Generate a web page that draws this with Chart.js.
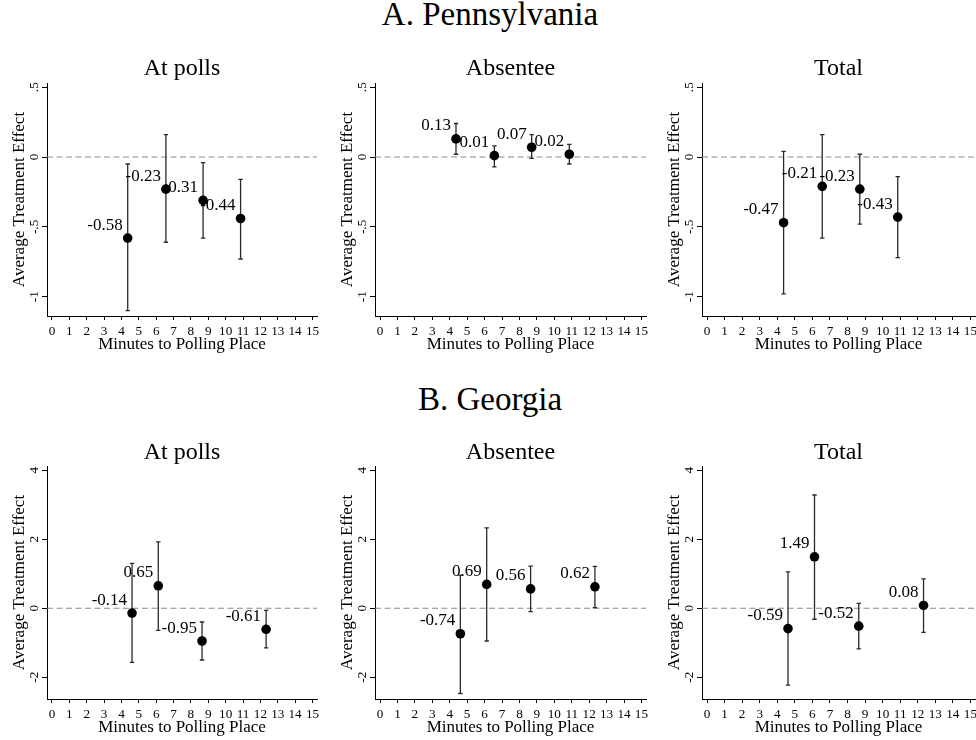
<!DOCTYPE html>
<html><head><meta charset="utf-8">
<script src="https://cdn.jsdelivr.net/npm/chart.js@4/dist/chart.umd.min.js"></script>
<style>
html,body{margin:0;padding:0;background:#fff;width:976px;height:740px;overflow:hidden;}
body{position:relative;font-family:"Liberation Serif","Times New Roman",serif;color:#000;}
.sec{position:absolute;left:290px;width:400px;text-align:center;font-size:33px;line-height:1;white-space:nowrap;}
.ptitle{position:absolute;width:200px;text-align:center;font-size:24px;line-height:1;white-space:nowrap;}
canvas{position:absolute;}
</style></head><body>
<div class="sec" style="top:-1.6px">A. Pennsylvania</div>
<div class="sec" style="top:383.4px">B. Georgia</div>
<script>
// ---- data ----
const minuteTicks = [0,1,2,3,4,5,6,7,8,9,10,11,12,13,14,15];
const paTickValues = [-1,-0.5,0,0.5];
const paTickLabels = ['-1','-.5','0','.5'];
const gaTickValues = [-2,0,2,4];
const gaTickLabels = ['-2','0','2','4'];
const panelTitles = ['At polls','Absentee','Total'];

const paMinutes = [4.36,6.56,8.70,10.86];
const gaMinutes = [4.61,6.12,8.64,12.33];

const paAtPollsEst  = [-0.58,-0.23,-0.31,-0.44];
const paAtPollsLow  = [-1.10,-0.61,-0.58,-0.73];
const paAtPollsHigh = [-0.05, 0.16,-0.04,-0.16];

const paAbsenteeEst  = [0.13,0.01,0.07,0.02];
const paAbsenteeLow  = [0.02,-0.07,-0.01,-0.05];
const paAbsenteeHigh = [0.24,0.08,0.16,0.09];

const paTotalEst  = [-0.47,-0.21,-0.23,-0.43];
const paTotalLow  = [-0.98,-0.58,-0.48,-0.72];
const paTotalHigh = [0.04,0.16,0.02,-0.14];

const gaAtPollsEst  = [-0.14,0.65,-0.95,-0.61];
const gaAtPollsLow  = [-1.57,-0.64,-1.50,-1.15];
const gaAtPollsHigh = [1.30,1.92,-0.40,-0.06];

const gaAbsenteeEst  = [-0.74,0.69,0.56,0.62];
const gaAbsenteeLow  = [-2.47,-0.95,-0.10,0.02];
const gaAbsenteeHigh = [0.96,2.33,1.22,1.21];

const gaTotalEst  = [-0.59,1.49,-0.52,0.08];
const gaTotalLow  = [-2.23,-0.32,-1.18,-0.70];
const gaTotalHigh = [1.05,3.28,0.14,0.85];

// ---- layout ----
const FONT = '"Liberation Serif","Times New Roman",serif';
const colLeft = [47,375,702], colRight = [317,646,975];
const rowTop = [83,466], rowBottom = [316,699];
const titleBaseline = [75,459.3];
const PADTOP = 10, PADR = 12, YW = 47, XH = 45;

const rows = [
  {minutes: paMinutes, ymin:-1.138, ymax:0.53, tv:paTickValues, tl:paTickLabels, tickPad:0.3,
   sets:[[paAtPollsEst,paAtPollsLow,paAtPollsHigh],[paAbsenteeEst,paAbsenteeLow,paAbsenteeHigh],[paTotalEst,paTotalLow,paTotalHigh]]},
  {minutes: gaMinutes, ymin:-2.63, ymax:4.12, tv:gaTickValues, tl:gaTickLabels, tickPad:1.9,
   sets:[[gaAtPollsEst,gaAtPollsLow,gaAtPollsHigh],[gaAbsenteeEst,gaAbsenteeLow,gaAbsenteeHigh],[gaTotalEst,gaTotalLow,gaTotalHigh]]}
];

function makePanel(r, c) {
  const row = rows[r];
  const [est, low, high] = row.sets[c];
  const cl = colLeft[c], cr = colRight[c], ct = rowTop[r], cb = rowBottom[r];
  const cv = document.createElement('canvas');
  const w = YW + (cr - cl) + PADR, h = PADTOP + (cb - ct) + XH;
  cv.width = w; cv.height = h;
  cv.style.left = (cl - YW) + 'px'; cv.style.top = (ct - PADTOP) + 'px';
  cv.style.width = w + 'px'; cv.style.height = h + 'px';
  document.body.appendChild(cv);

  const t = document.createElement('div');
  t.className = 'ptitle';
  t.textContent = panelTitles[c];
  t.style.left = ((cl + cr) / 2 - 100) + 'px';
  t.style.top = (titleBaseline[r] - 20.1) + 'px';
  document.body.appendChild(t);

  const errPlugin = {
    id: 'errbars' + r + c,
    beforeDatasetsDraw(chart) {
      const {ctx, chartArea: a, scales: {x, y}} = chart;
      ctx.save();
      // zero reference line
      const y0 = y.getPixelForValue(0);
      ctx.strokeStyle = '#8c8c8c'; ctx.lineWidth = 1.1; ctx.setLineDash([6, 3.5]);
      ctx.beginPath(); ctx.moveTo(a.left, y0); ctx.lineTo(a.right, y0); ctx.stroke();
      ctx.setLineDash([]);
      // error bars
      ctx.strokeStyle = '#2a2a2a'; ctx.lineWidth = 1.3;
      row.minutes.forEach((m, i) => {
        const px = x.getPixelForValue(m);
        const pl = y.getPixelForValue(low[i]), ph = y.getPixelForValue(high[i]);
        ctx.beginPath();
        ctx.moveTo(px, pl); ctx.lineTo(px, ph);
        ctx.moveTo(px - 2.2, pl); ctx.lineTo(px + 2.2, pl);
        ctx.moveTo(px - 2.2, ph); ctx.lineTo(px + 2.2, ph);
        ctx.stroke();
      });
      ctx.restore();
    },
    afterDatasetsDraw(chart) {
      const {ctx, scales: {x, y}} = chart;
      ctx.save();
      ctx.font = '17px ' + FONT; ctx.fillStyle = '#000';
      ctx.textAlign = 'right'; ctx.textBaseline = 'alphabetic';
      row.minutes.forEach((m, i) => {
        const px = x.getPixelForValue(m), py = y.getPixelForValue(est[i]);
        ctx.fillText(est[i].toFixed(2), px - 5, py - 8.5);
      });
      ctx.restore();
    }
  };

  new Chart(cv, {
    type: 'scatter',
    data: {datasets: [{
      data: row.minutes.map((m, i) => ({x: m, y: est[i]})),
      pointRadius: 4.8, pointBackgroundColor: '#000', pointBorderColor: '#000', pointBorderWidth: 0,
      pointHoverRadius: 4.8
    }]},
    options: {
      responsive: false, animation: false, devicePixelRatio: 1,
      layout: {padding: {top: PADTOP, left: 0, right: PADR, bottom: 0}},
      plugins: {legend: {display: false}, tooltip: {enabled: false}, title: {display: false}},
      events: [],
      scales: {
        x: {
          type: 'linear', min: -0.287, max: 15.26,
          afterBuildTicks: s => { s.ticks = minuteTicks.map(v => ({value: v})); },
          afterFit: s => { s.height = XH; s.paddingLeft = 0; s.paddingRight = 0; },
          ticks: {autoSkip: false, maxRotation: 0, minRotation: 0, padding: 3.5, color: '#000',
                  font: {family: FONT, size: 13.2}, callback: v => String(v)},
          grid: {display: true, drawOnChartArea: false, drawTicks: true, tickLength: 4, color: '#000', lineWidth: 1},
          border: {display: true, color: '#000', width: 1},
          title: {display: true, text: 'Minutes to Polling Place', color: '#000',
                  font: {family: FONT, size: 17}, padding: {top: 0, bottom: 6.5}}
        },
        y: {
          type: 'linear', min: row.ymin, max: row.ymax,
          afterBuildTicks: s => { s.ticks = row.tv.map(v => ({value: v})); },
          afterFit: s => { s.width = YW; s.paddingTop = 0; s.paddingBottom = 0; },
          ticks: {minRotation: 90, maxRotation: 90, crossAlign: 'center', padding: row.tickPad, color: '#000',
                  font: {family: FONT, size: 13.2},
                  callback: v => { const k = row.tv.indexOf(v); return k >= 0 ? row.tl[k] : ''; }},
          grid: {display: true, drawOnChartArea: false, drawTicks: true, tickLength: 5, color: '#000', lineWidth: 1},
          border: {display: true, color: '#000', width: 1},
          title: {display: true, text: 'Average Treatment Effect', color: '#000',
                  font: {family: FONT, size: 17}, padding: {top: 9, bottom: 0}}
        }
      }
    },
    plugins: [errPlugin]
  });
}

for (let r = 0; r < 2; r++) for (let c = 0; c < 3; c++) makePanel(r, c);
</script>
</body></html>
